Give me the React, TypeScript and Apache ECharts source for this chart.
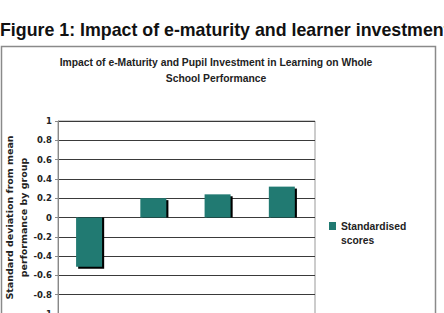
import React, { useEffect, useRef } from "react";
import * as echarts from "echarts";

const categories = ["Group 1", "Group 2", "Group 3", "Group 4"];
const standardisedScores = [-0.51, 0.2, 0.24, 0.32];
const seriesName = "Standardised scores";
const figureTitle = "Figure 1: Impact of e-maturity and learner investment";
const chartTitle = "Impact of e-Maturity and Pupil Investment in Learning on Whole\nSchool Performance";
const yAxisName = "Standard deviation from mean\nperformance by group";

export default function App() {
  const ref = useRef<HTMLDivElement>(null);
  useEffect(() => {
    if (!ref.current) return;
    const chart = echarts.init(ref.current, null, { renderer: "svg" });
    // shadow offset (about 2px on the value scale) for the drop-shadow bars
    const shadowData = standardisedScores.map((v) => v - 0.02);
    chart.setOption({
      animation: false,
      backgroundColor: "#fff",
      graphic: [
        {
          type: "rect",
          shape: { x: 1.5, y: 46.5, width: 434, height: 280 },
          style: { fill: "none", stroke: "#8a8a8a", lineWidth: 1.5 },
          silent: true,
          z: -1,
        },
        {
          type: "text",
          x: 0,
          y: 21,
          style: {
            text: figureTitle,
            fontFamily: "'Liberation Sans', Arial, sans-serif",
            fontSize: 17.8,
            fontWeight: "bold",
            fill: "#111",
            verticalAlign: "top",
          },
        },
        {
          type: "text",
          x: 216,
          y: 54,
          scaleX: 0.985,
          style: {
            text: chartTitle,
            fontFamily: "'Liberation Sans', Arial, sans-serif",
            fontSize: 10.5,
            fontWeight: "bold",
            fill: "#222",
            lineHeight: 16,
            align: "center",
            verticalAlign: "top",
          },
        },
      ],
      legend: {
        left: 329,
        top: 205,
        padding: 0,
        orient: "vertical",
        itemWidth: 7,
        itemHeight: 8,
        icon: "rect",
        data: [seriesName],
        formatter: () => " \nStandardised\nscores",
        textStyle: {
          fontFamily: "'Liberation Sans', Arial, sans-serif",
          fontSize: 10.3,
          fontWeight: "bold",
          color: "#222",
          lineHeight: 14,
        },
        itemGap: 3,
      },
      grid: {
        left: 58,
        top: 121,
        width: 257,
        height: 193,
        show: true,
        borderColor: "#999",
        borderWidth: 1,
        backgroundColor: "transparent",
        containLabel: false,
        outerBoundsMode: "none",
      },
      xAxis: {
        type: "category",
        data: categories,
        axisLine: { show: false },
        axisTick: { show: false },
        axisLabel: { show: false },
      },
      yAxis: {
        type: "value",
        min: -1,
        max: 1,
        interval: 0.2,
        name: yAxisName,
        nameLocation: "middle",
        nameRotate: 90,
        nameGap: 28,
        nameMoveOverlap: false,
        nameTextStyle: {
          fontFamily: "'DejaVu Sans', Verdana, sans-serif",
          fontSize: 9.5,
          fontWeight: "bold",
          color: "#222",
          lineHeight: 14,
        },
        axisLine: { show: true, lineStyle: { color: "#888", width: 1 } },
        axisTick: { show: true, length: 3, lineStyle: { color: "#888" } },
        axisLabel: {
          fontFamily: "'DejaVu Sans', Verdana, sans-serif",
          fontSize: 8.5,
          fontWeight: "bold",
          color: "#222",
          margin: 6,
        },
        splitLine: { show: true, lineStyle: { color: "#3a3a3a", width: 1 } },
      },
      series: [
        {
          type: "bar",
          name: seriesName,
          data: standardisedScores,
          barWidth: 26,
          z: 3,
          itemStyle: { color: "#217a72" },
        },
        {
          type: "bar",
          name: "shadow",
          data: shadowData,
          barWidth: 26,
          barGap: "-92%",
          z: 2,
          silent: true,
          itemStyle: { color: "#000" },
        },
      ],
    });
    return () => chart.dispose();
  }, []);
  return (
    <div
      ref={ref}
      style={{ position: "absolute", left: 0, top: 0, width: 444, height: 313 }}
    />
  );
}
